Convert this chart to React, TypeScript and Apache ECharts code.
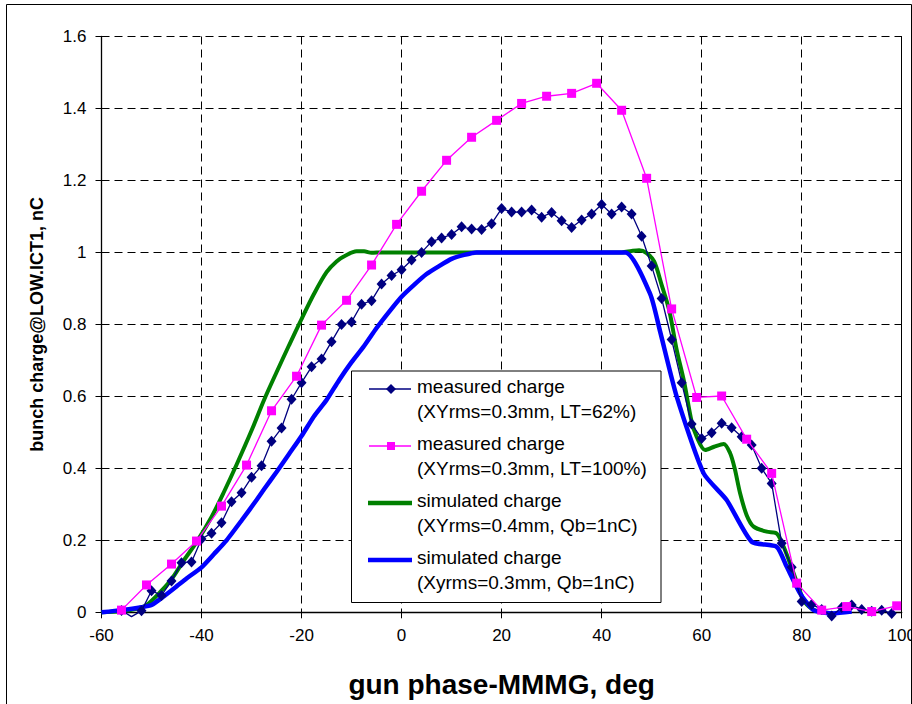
import React, { useEffect, useRef } from "react";
import * as echarts from "echarts";

// Measured bunch charge, XYrms = 0.3 mm, LT = 62 %
const measured62Phase = [
  -56, -54, -52, -50, -48, -46, -44, -42, -40, -38, -36, -34, -32, -30, -28, -26, -24, -22, -20, -18,
  -16, -14, -12, -10, -8, -6, -4, -2, 0, 2, 4, 6, 8, 10, 12, 14, 16, 18, 20, 22,
  24, 26, 28, 30, 32, 34, 36, 38, 40, 42, 44, 46, 48, 50, 52, 54, 56, 58, 60, 62,
  64, 66, 68, 70, 72, 74, 76, 78, 80, 82, 84, 86, 88, 90, 92, 94, 96, 98,
];
const measured62Charge = [
  0.005, -0.012, 0.004, 0.06, 0.047, 0.087, 0.138, 0.14, 0.204, 0.22, 0.249, 0.307, 0.332, 0.375, 0.407, 0.475, 0.512, 0.592, 0.638, 0.682,
  0.704, 0.752, 0.8, 0.807, 0.856, 0.866, 0.912, 0.936, 0.952, 0.979, 1.0, 1.03, 1.04, 1.05, 1.071, 1.065, 1.064, 1.08, 1.122, 1.112,
  1.112, 1.118, 1.098, 1.111, 1.088, 1.069, 1.09, 1.107, 1.133, 1.107, 1.126, 1.107, 1.045, 0.962, 0.872, 0.758, 0.638, 0.523, 0.483, 0.499,
  0.525, 0.513, 0.488, 0.465, 0.4, 0.358, 0.192, 0.125, 0.03, 0.022, 0.008, -0.01, 0.013, 0.02, 0.008, 0.003, 0.006, -0.003,
];

// Measured bunch charge, XYrms = 0.3 mm, LT = 100 %
const measured100Phase = [
  -56, -51, -46, -41, -36, -31, -26, -21, -16, -11, -6, -1, 4, 9, 14, 19,
  24, 29, 34, 39, 44, 49, 54, 59, 64, 69, 74, 79, 84, 89, 94, 99,
];
const measured100Charge = [
  0.006, 0.076, 0.134, 0.198, 0.295, 0.409, 0.56, 0.656, 0.798, 0.867, 0.965, 1.078, 1.17, 1.256, 1.32, 1.367,
  1.414, 1.434, 1.442, 1.47, 1.395, 1.206, 0.843, 0.597, 0.601, 0.481, 0.386, 0.081, 0.006, 0.016, 0.002, 0.018,
];

// Simulated charge, XYrms = 0.4 mm, Qb = 1 nC
const sim04Phase = [
  -60, -56, -53, -51, -48, -46, -43.5, -41, -38, -35.5, -33, -30, -27.5, -25, -22.5, -20, -17.5, -15, -13, -11,
  -9, -7.5, -6, -4, 10, 30, 44, 46, 47.5, 49, 50.5, 52, 53.5, 55, 56.5, 58, 59, 60.7, 62.5, 64.4,
  65.7, 66.6, 67.7, 69, 70.4, 73, 75, 76.4, 78.4, 80.4, 82, 84, 86.3,
];
const sim04Charge = [
  0, 0.003, 0.01, 0.02, 0.06, 0.092, 0.145, 0.195, 0.265, 0.335, 0.41, 0.505, 0.59, 0.667, 0.742, 0.815, 0.885, 0.945, 0.975, 0.993,
  1.003, 1.003, 0.999, 1.0, 1.0, 1.0, 1.0, 1.004, 1.006, 0.998, 0.975, 0.91, 0.84, 0.73, 0.64, 0.53, 0.488, 0.451, 0.46, 0.468,
  0.442, 0.4, 0.33, 0.27, 0.238, 0.224, 0.219, 0.182, 0.108, 0.034, 0.01, 0.0, -0.003,
];

// Simulated charge, Xyrms = 0.3 mm, Qb = 1 nC
const sim03Phase = [
  -60, -56, -52, -50, -47.5, -45, -43, -40, -37.5, -35, -32, -29, -27.5, -25, -22.5, -20, -17.5, -15, -12.5, -10,
  -7.5, -5, -2.5, 0, 2.5, 5, 7.5, 10, 12.5, 15, 30, 44.7, 49.7, 51.7, 55, 60.4, 65, 70, 75, 77,
  79.7, 82.4, 86.3, 90,
];
const sim03Charge = [
  0, 0.006, 0.014, 0.02, 0.045, 0.072, 0.094, 0.125, 0.162, 0.2, 0.255, 0.312, 0.342, 0.39, 0.44, 0.49, 0.545, 0.59, 0.645, 0.695,
  0.74, 0.79, 0.835, 0.877, 0.91, 0.94, 0.962, 0.982, 0.993, 1.0, 1.0, 1.0, 0.885, 0.78, 0.6, 0.386, 0.312, 0.196, 0.182, 0.127,
  0.052, 0.006, -0.003, 0.002,
];

const seriesNames = [
  "measured charge\n(XYrms=0.3mm, LT=62%)",
  "measured charge\n(XYrms=0.3mm, LT=100%)",
  "simulated charge\n(XYrms=0.4mm, Qb=1nC)",
  "simulated charge\n(Xyrms=0.3mm, Qb=1nC)",
];

const NAVY = "#000080";
const PINK = "#ff00ff";
const GREEN = "#008000";
const BLUE = "#0000ff";
const FONT = '"Liberation Sans", Arial, sans-serif';
const LEGEND_Z = 100;

const zip = (xs: number[], ys: number[]) => xs.map((x, i) => [x, ys[i]]);

// The dip below the axis at -54 deg shows only as a kink in the line, without a marker.
const measured62Data = zip(measured62Phase, measured62Charge).map((p) =>
  p[0] === -54 ? { value: p, symbol: "none" } : p
);

function legendItem(y: number, color: string, kind: "diamond" | "square" | "thick", label: string) {
  const children: any[] = [];
  if (kind === "thick") {
    children.push({
      type: "line",
      z: LEGEND_Z + 1,
      shape: { x1: 368, y1: y, x2: 412, y2: y },
      style: { stroke: color, lineWidth: 4.5 },
    });
  } else {
    children.push({
      type: "line",
      z: LEGEND_Z + 1,
      shape: { x1: 369, y1: y, x2: 411, y2: y },
      style: { stroke: color, lineWidth: 1.3 },
    });
    if (kind === "diamond") {
      children.push({
        type: "polygon",
        z: LEGEND_Z + 2,
        shape: { points: [[391, y - 5], [396, y], [391, y + 5], [386, y]] },
        style: { fill: color },
      });
    } else {
      children.push({
        type: "rect",
        z: LEGEND_Z + 2,
        shape: { x: 387, y: y - 4, width: 8, height: 8 },
        style: { fill: color },
      });
    }
  }
  children.push({
    type: "text",
    z: LEGEND_Z + 1,
    style: {
      text: label,
      x: 417,
      y: y - 15,
      fill: "#000",
      font: `19px ${FONT}`,
      lineHeight: 25,
      textVerticalAlign: "top",
      verticalAlign: "top",
    },
  });
  return children;
}

export default function App() {
  const ref = useRef<HTMLDivElement>(null);

  useEffect(() => {
    if (!ref.current) return;
    const chart = echarts.init(ref.current, undefined, { renderer: "svg" });

    const gridLine = { show: true, lineStyle: { color: "#000", type: [8, 5], width: 1 } };

    chart.setOption({
      animation: false,
      backgroundColor: "#fff",
      grid: {
        left: 101.5,
        right: 10.3,
        top: 36.5,
        bottom: 91.7,
        containLabel: false,
        outerBoundsMode: "none",
      },
      xAxis: {
        type: "value",
        min: -60,
        max: 100,
        interval: 20,
        name: "gun phase-MMMG, deg",
        nameLocation: "middle",
        nameGap: 58,
        nameTextStyle: { fontFamily: FONT, fontWeight: "bold", fontSize: 28, color: "#000" },
        axisLine: { show: true, onZero: false, lineStyle: { color: "#000", width: 1.3 } },
        axisTick: { show: true, length: 6, lineStyle: { color: "#000" } },
        axisLabel: { fontFamily: FONT, fontSize: 17, color: "#000", margin: 15 },
        splitLine: gridLine,
      },
      yAxis: [
        {
          type: "value",
          min: 0,
          max: 1.6,
          interval: 0.2,
          name: "bunch charge@LOW.ICT1, nC",
          nameLocation: "middle",
          nameGap: 56,
          nameTextStyle: { fontFamily: FONT, fontWeight: "bold", fontSize: 18, color: "#000" },
          axisLine: { show: true, onZero: false, lineStyle: { color: "#000", width: 1.3 } },
          axisTick: { show: true, length: 6, lineStyle: { color: "#000" } },
          axisLabel: {
            fontFamily: FONT,
            fontSize: 17,
            color: "#000",
            margin: 15,
            formatter: (v: number) => String(+v.toFixed(1)),
          },
          splitLine: gridLine,
        },
        {
          type: "value",
          position: "right",
          min: 0,
          max: 1.6,
          interval: 0.2,
          axisLine: { show: true, onZero: false, lineStyle: { color: "#000", width: 1 } },
          axisTick: { show: false },
          axisLabel: { show: false },
          splitLine: { show: false },
        },
      ],
      series: [
        {
          name: seriesNames[2],
          type: "line",
          data: zip(sim04Phase, sim04Charge),
          smooth: 0.3,
          showSymbol: false,
          clip: false,
          z: 2,
          lineStyle: { color: GREEN, width: 4 },
          itemStyle: { color: GREEN },
        },
        {
          name: seriesNames[3],
          type: "line",
          data: zip(sim03Phase, sim03Charge),
          smooth: 0.2,
          showSymbol: false,
          clip: false,
          z: 3,
          lineStyle: { color: BLUE, width: 4.5 },
          itemStyle: { color: BLUE },
        },
        {
          name: seriesNames[0],
          type: "line",
          data: measured62Data,
          symbol: "diamond",
          symbolSize: [10, 11],
          clip: false,
          z: 4,
          lineStyle: { color: NAVY, width: 1.3 },
          itemStyle: { color: NAVY },
        },
        {
          name: seriesNames[1],
          type: "line",
          data: zip(measured100Phase, measured100Charge),
          symbol: "rect",
          symbolSize: 9,
          clip: false,
          z: 5,
          lineStyle: { color: PINK, width: 1.3 },
          itemStyle: { color: PINK },
        },
      ],
      graphic: [
        {
          type: "rect",
          z: LEGEND_Z,
          shape: { x: 6.5, y: 4.5, width: 905, height: 720 },
          style: { fill: "none", stroke: "#000", lineWidth: 1 },
          silent: true,
        },
        {
          type: "group",
          z: LEGEND_Z,
          children: [
            {
              type: "rect",
              z: LEGEND_Z,
              shape: { x: 351.5, y: 371, width: 309.5, height: 231.5 },
              style: { fill: "#fff", stroke: "#000", lineWidth: 1 },
            },
            ...legendItem(389, NAVY, "diamond", seriesNames[0]),
            ...legendItem(446, PINK, "square", seriesNames[1]),
            ...legendItem(503, GREEN, "thick", seriesNames[2]),
            ...legendItem(560, BLUE, "thick", seriesNames[3]),
          ],
        },
      ],
    });

    return () => chart.dispose();
  }, []);

  return (
    <div
      ref={ref}
      style={{ position: "fixed", left: 0, top: 0, width: 912, height: 704, background: "#fff" }}
    />
  );
}
